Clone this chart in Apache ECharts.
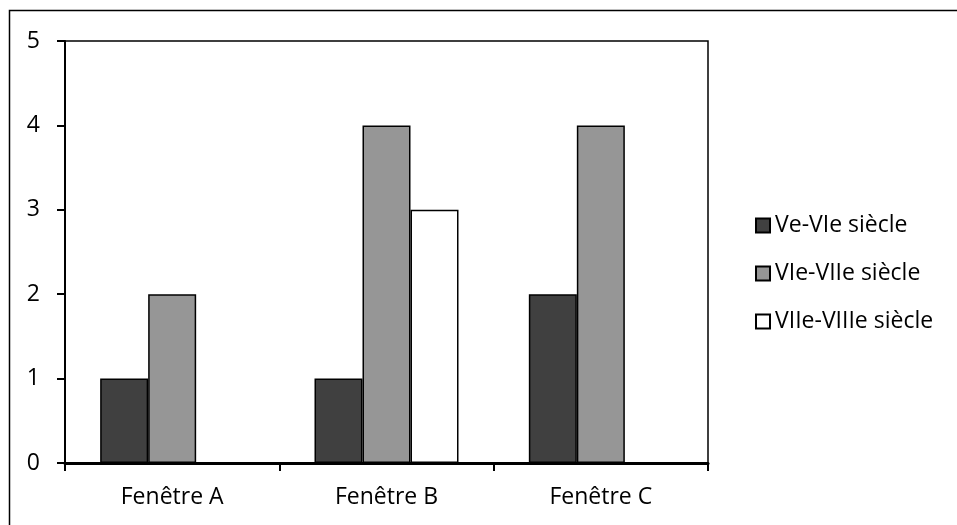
<!DOCTYPE html>
<html>
<head>
<meta charset="utf-8">
<script src="https://cdn.jsdelivr.net/npm/echarts@6/dist/echarts.min.js"></script>
<style>
  html, body { margin: 0; padding: 0; background: #fff; }
  #chart { width: 957px; height: 525px; }
</style>
</head>
<body>
<div id="chart"></div>
<script>
// données
const categories = ["Fenêtre A", "Fenêtre B", "Fenêtre C"];
const seriesNames = ["Ve-VIe siècle", "VIe-VIIe siècle", "VIIe-VIIIe siècle"];
const veVie = [1, 1, 2];
const vieViie = [2, 4, 4];
const viieViiie = [null, 3, null];

const font = "'Open Sans', Lato, sans-serif";

const myChart = echarts.init(document.getElementById("chart"));

function bar(name, data, color) {
  return {
    name: name,
    type: "bar",
    data: data,
    barWidth: 48,
    barGap: "0%",
    itemStyle: { color: color, borderColor: "#000", borderWidth: 1.5 },
  };
}

const option = {
  backgroundColor: "#fff",
  animation: false,
  textStyle: { fontFamily: font },
  graphic: [
    {
      type: "rect",
      shape: { x: 9.5, y: 10.5, width: 1000, height: 600 },
      style: { fill: null, stroke: "#000", lineWidth: 1.5 },
    },
  ],
  grid: {
    left: 65,
    right: 249,
    top: 41,
    bottom: 62,
    show: true,
    borderColor: "#000",
    borderWidth: 1.5,
  },
  legend: {
    orient: "vertical",
    left: 750,
    top: 209,
    itemWidth: 14,
    itemHeight: 14,
    itemGap: 25,
    icon: "rect",
    data: seriesNames,
    textStyle: { fontFamily: font, fontSize: 23, color: "#000", padding: [0, 0, 0, 0] },
  },
  xAxis: {
    type: "category",
    data: categories,
    axisLine: { lineStyle: { color: "#000", width: 3 } },
    axisTick: { show: true, length: 8, lineStyle: { color: "#000", width: 2 } },
    axisLabel: { fontFamily: font, fontSize: 23, color: "#000", margin: 23 },
  },
  yAxis: {
    type: "value",
    min: 0,
    max: 5,
    interval: 1,
    axisLine: { show: true, lineStyle: { color: "#000", width: 2 } },
    axisTick: { show: true, length: 8, lineStyle: { color: "#000", width: 2 } },
    axisLabel: { fontFamily: font, fontSize: 23, color: "#000", margin: 25 },
    splitLine: { show: false },
  },
  series: [
    bar(seriesNames[0], veVie, "#404040"),
    bar(seriesNames[1], vieViie, "#969696"),
    bar(seriesNames[2], viieViiie, "#ffffff"),
  ],
};

myChart.setOption(option);
</script>
</body>
</html>
